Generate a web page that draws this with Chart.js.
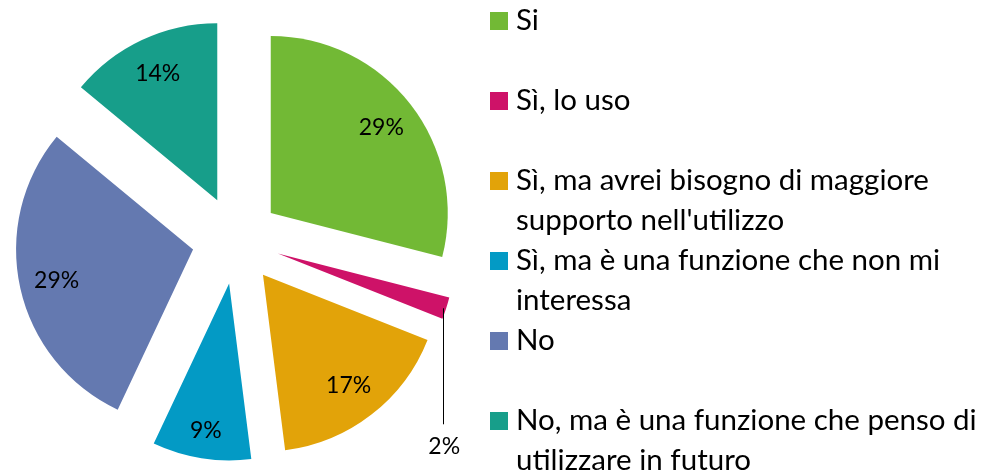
<!DOCTYPE html>
<html>
<head>
<meta charset="utf-8">
<script src="https://cdn.jsdelivr.net/npm/chart.js@4.4.1/dist/chart.umd.min.js"></script>
<style>
  html, body { margin: 0; padding: 0; background: #ffffff; }
  #wrap { position: relative; width: 985px; height: 475px; }
</style>
</head>
<body>
<div id="wrap"><canvas id="c"></canvas></div>
<script>
// ---- data ----
const categories = [
  "Si",
  "Sì, lo uso",
  "Sì, ma avrei bisogno di maggiore supporto nell'utilizzo",
  "Sì, ma è una funzione che non mi interessa",
  "No",
  "No, ma è una funzione che penso di utilizzare in futuro"
];
const legendLines = [
  ["Si"],
  ["Sì, lo uso"],
  ["Sì, ma avrei bisogno di maggiore", "supporto nell'utilizzo"],
  ["Sì, ma è una funzione che non mi", "interessa"],
  ["No"],
  ["No, ma è una funzione che penso di", "utilizzare in futuro"]
];
const values = [29, 2, 17, 9, 29, 14];
const colors = ["#72B935", "#CE1268", "#E2A309", "#039AC5", "#6479B0", "#179E8A"];

// ---- style constants ----
const FONT = "Lato, 'Open Sans', sans-serif";
const PIE_RADIUS = 177;
const EXPLODE_PX = 44; // radial displacement of every slice

// draw each library arc element pushed out along its mid-angle (exact wedges)
const explodePlugin = {
  id: 'explode',
  beforeDatasetDraw(chart, args) {
    const ctx = chart.ctx;
    const meta = args.meta;
    meta.data.forEach(arc => {
      const mid = (arc.startAngle + arc.endAngle) / 2;
      ctx.save();
      ctx.translate(Math.cos(mid) * EXPLODE_PX, Math.sin(mid) * EXPLODE_PX);
      arc.draw(ctx, chart.chartArea);
      ctx.restore();
    });
    return false;
  }
};

const sliceLabelPlugin = {
  id: 'sliceLabels',
  afterDatasetsDraw(chart) {
    const ctx = chart.ctx;
    const meta = chart.getDatasetMeta(0);
    ctx.save();
    ctx.font = "23px " + FONT;
    ctx.fillStyle = "#000";
    ctx.textAlign = "center";
    ctx.textBaseline = "middle";
    meta.data.forEach((arc, i) => {
      const mid = (arc.startAngle + arc.endAngle) / 2;
      const R = arc.outerRadius;
      const vx = arc.x + Math.cos(mid) * EXPLODE_PX;
      const vy = arc.y + Math.sin(mid) * EXPLODE_PX;
      const txt = values[i] + "%";
      if (values[i] < 5) {
        const sx = vx + Math.cos(mid) * R;
        const sy = vy + Math.sin(mid) * R;
        ctx.strokeStyle = "#000";
        ctx.lineWidth = 1;
        ctx.beginPath();
        ctx.moveTo(Math.round(sx) - 2.5, sy);
        ctx.lineTo(Math.round(sx) - 2.5, sy + 116);
        ctx.stroke();
        ctx.fillText(txt, sx - 2, sy + 138);
      } else {
        const r = R * (values[i] < 12 ? 0.84 : 0.79);
        ctx.fillText(txt, vx + Math.cos(mid) * r, vy + Math.sin(mid) * r);
      }
    });
    ctx.restore();
  }
};

const legendPlugin = {
  id: 'sideLegend',
  afterDraw(chart) {
    const ctx = chart.ctx;
    ctx.save();
    ctx.font = "29.5px " + FONT;
    ctx.textAlign = "left";
    ctx.textBaseline = "alphabetic";
    legendLines.forEach((lines, i) => {
      const base = 30 + i * 80;
      ctx.fillStyle = colors[i];
      ctx.fillRect(490, base - 18, 18, 18);
      ctx.fillStyle = "#000";
      lines.forEach((ln, j) => ctx.fillText(ln, 516, base + j * 40));
    });
    ctx.restore();
  }
};

new Chart(document.getElementById('c'), {
  type: 'pie',
  data: {
    labels: categories,
    datasets: [{
      data: values,
      backgroundColor: colors,
      borderWidth: 0,
      offset: 0,
      radius: PIE_RADIUS
    }]
  },
  options: {
    responsive: true,
    maintainAspectRatio: false,
    animation: false,
    events: [],
    layout: { padding: { left: 0, right: 513, top: 5, bottom: 0 } },
    plugins: {
      legend: { display: false },
      tooltip: { enabled: false }
    }
  },
  plugins: [explodePlugin, sliceLabelPlugin, legendPlugin]
});
</script>
</body>
</html>
